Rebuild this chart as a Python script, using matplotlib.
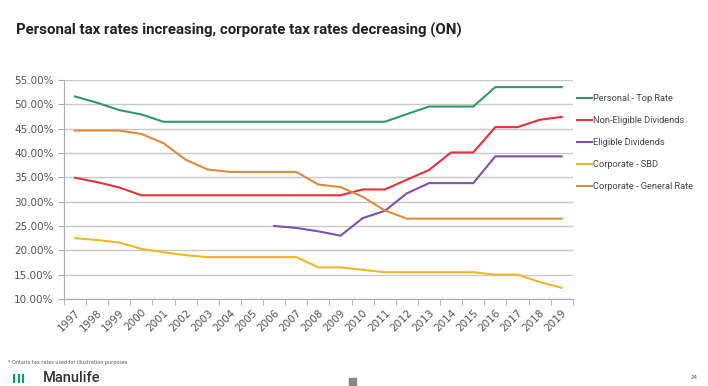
import matplotlib.pyplot as plt
import numpy as np

years = [str(y) for y in range(1997, 2020)]

# tax rates in % (None = no data)
personal_top = [51.6, 50.3, 48.8, 47.9, 46.4, 46.4, 46.4, 46.4, 46.4, 46.4, 46.4,
                46.4, 46.4, 46.4, 46.4, 47.97, 49.53, 49.53, 49.53, 53.53, 53.53, 53.53, 53.53]
non_eligible = [34.9, 34.0, 32.9, 31.3, 31.3, 31.3, 31.3, 31.3, 31.3, 31.3, 31.3,
                31.3, 31.3, 32.5, 32.5, 34.5, 36.5, 40.1, 40.1, 45.3, 45.3, 46.8, 47.4]
eligible = [None] * 9 + [25.0, 24.6, 23.9, 23.0, 26.6, 28.1, 31.7, 33.8, 33.8, 33.8,
                         39.3, 39.3, 39.3, 39.3]
corp_sbd = [22.5, 22.1, 21.6, 20.3, 19.6, 19.0, 18.6, 18.6, 18.6, 18.6, 18.6,
            16.5, 16.5, 16.0, 15.5, 15.5, 15.5, 15.5, 15.5, 15.0, 15.0, 13.5, 12.3]
corp_general = [44.6, 44.6, 44.6, 43.9, 42.0, 38.6, 36.6, 36.1, 36.1, 36.1, 36.1,
                33.5, 33.0, 31.0, 28.2, 26.5, 26.5, 26.5, 26.5, 26.5, 26.5, 26.5, 26.5]

series = [
    ("Personal - Top Rate", personal_top, "#2e9a66"),
    ("Non-Eligible Dividends", non_eligible, "#e8303a"),
    ("Eligible Dividends", eligible, "#7b52ad"),
    ("Corporate - SBD", corp_sbd, "#f0b728"),
    ("Corporate - General Rate", corp_general, "#e08a3c"),
]

fig = plt.figure(figsize=(7.08, 3.86), dpi=100)
ax = fig.add_axes([0.0904, 0.2254, 0.7186, 0.5676])

x = np.arange(len(years))
for name, vals, col in series:
    v = np.array([np.nan if a is None else a for a in vals], dtype=float)
    ax.plot(x, v, color=col, lw=1.5, label=name)

ax.set_xlim(-0.5, len(years) - 0.5)
ax.set_ylim(10, 55)
ax.set_yticks(np.arange(10, 56, 5))
ax.set_yticklabels([f"{t:.2f}%" for t in np.arange(10, 56, 5)])
ax.yaxis.grid(True, color="#c8c8c8", lw=1)
ax.set_axisbelow(True)
ax.set_xticks(x)
ax.set_xticklabels(years, rotation=45, ha="right", rotation_mode="anchor")
ax.set_xticks(np.arange(-0.5, len(years), 1), minor=True)
ax.tick_params(axis="x", which="major", length=0, pad=6)
ax.tick_params(axis="x", which="minor", length=4, color="#aaaaaa")
ax.tick_params(axis="y", length=4, color="#aaaaaa")
ax.tick_params(labelsize=7.5, labelcolor="#555555")
for s in ["top", "right"]:
    ax.spines[s].set_visible(False)
for s in ["left", "bottom"]:
    ax.spines[s].set_color("#aaaaaa")

leg = ax.legend(loc="upper left", bbox_to_anchor=(0.995, 0.965), frameon=False,
                prop={"family": "Roboto", "size": 6.7}, labelspacing=1.4,
                handlelength=1.6, handletextpad=0.1, labelcolor="#444444",
                borderaxespad=0.3)

fig.text(0.022, 0.922, "Personal tax rates increasing, corporate tax rates decreasing (ON)",
         fontsize=10.8, fontweight="bold", family="Roboto",
         color="#222222", va="center")

fig.text(0.011, 0.062, "* Ontario tax rates used for illustration purposes", fontsize=3.5,
         color="#555555", va="center")
# logo
for i in range(3):
    fig.patches.append(plt.Rectangle((0.019 + i * 0.0062, 0.008), 0.0028, 0.022,
                                     transform=fig.transFigure, color="#00a758", lw=0))
fig.text(0.061, 0.021, "Manulife", fontsize=10.5, color="#333333", va="center",
         family="Roboto", fontweight="medium")
fig.text(0.975, 0.022, "24", fontsize=4, color="#555555", va="center")
fig.patches.append(plt.Rectangle((0.493, 0.0), 0.01, 0.02, transform=fig.transFigure,
                                 color="#888888"))

fig.savefig("out.png", dpi=100)
